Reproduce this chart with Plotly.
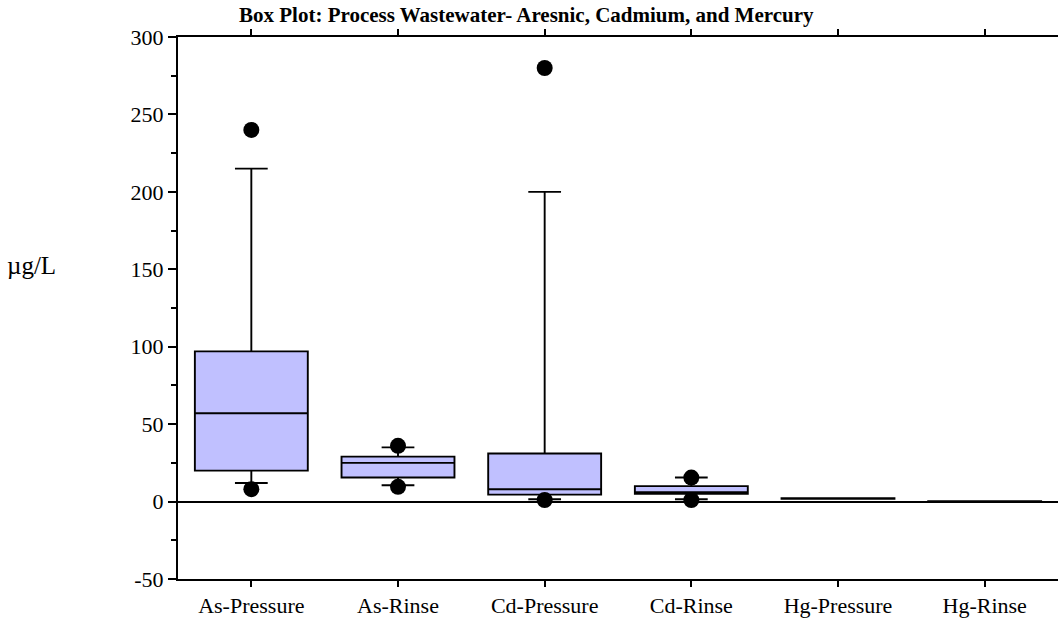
import plotly.graph_objects as go

# Sample groups (µg/L)
categories = ["As-Pressure", "As-Rinse", "Cd-Pressure", "Cd-Rinse", "Hg-Pressure", "Hg-Rinse"]
lower_whisker = [12, 10.5, 1.5, 1.5, 1.8, -0.3]
q1_values = [20, 15.5, 4.5, 5, 1.8, -0.3]
medians = [57, 25, 8, 6, 2, 0]
q3_values = [97, 29, 31, 10, 2.2, 0.2]
upper_whisker = [215, 35, 200, 15.5, 2.2, 0.2]

# Outlying observations: (group index, value)
outlier_group = [0, 0, 1, 1, 2, 2, 3, 3]
outlier_value = [8, 240, 9.5, 36, 1, 280, 1, 15.5]

# Value axis ticks
y_tickvals = [-50, 0, 50, 100, 150, 200, 250, 300]
y_ticktext = ["-50", "0", "50", "100", "150", "200", "250", "300"]
y_minor = [-25, 25, 75, 125, 175, 225, 275]

positions = list(range(len(categories)))
serif = "Liberation Serif, Times New Roman, serif"

fig = go.Figure()

fig.add_trace(go.Box(
    x=positions,
    q1=q1_values,
    median=medians,
    q3=q3_values,
    lowerfence=lower_whisker,
    upperfence=upper_whisker,
    width=0.77,
    whiskerwidth=0.29,
    boxpoints=False,
    fillcolor="#C0C0FF",
    line=dict(color="black", width=1.9),
    showlegend=False,
    hoverinfo="skip",
))

fig.add_trace(go.Scatter(
    x=outlier_group,
    y=outlier_value,
    mode="markers",
    marker=dict(symbol="circle", size=16, color="black"),
    showlegend=False,
    hoverinfo="skip",
))

fig.update_layout(
    width=1058,
    height=622,
    margin=dict(l=178, r=0, t=37, b=43),
    paper_bgcolor="white",
    plot_bgcolor="white",
    font=dict(family=serif, size=22, color="black"),
    annotations=[
        dict(
            text="<b>Box Plot: Process Wastewater- Aresnic, Cadmium, and Mercury</b>",
            x=(526 - 178) / 880, y=1, xref="paper", yref="paper",
            xanchor="center", yanchor="bottom", yshift=8,
            showarrow=False, font=dict(family=serif, size=21, color="black"),
        ),
        dict(
            text="µg/L",
            x=-0.197, y=0.579, xref="paper", yref="paper",
            xanchor="left", yanchor="middle",
            showarrow=False, font=dict(family=serif, size=25, color="black"),
        ),
    ],
)

fig.update_xaxes(
    range=[-0.5, 5.5],
    tickmode="array",
    tickvals=positions,
    ticktext=categories,
    ticks="outside",
    ticklen=6,
    tickwidth=1.5,
    tickcolor="black",
    showline=True,
    linecolor="black",
    linewidth=2,
    mirror="ticks",
    showgrid=False,
    zeroline=False,
    fixedrange=True,
)

fig.update_yaxes(
    range=[-50, 300],
    tickmode="array",
    tickvals=y_tickvals,
    ticktext=y_ticktext,
    ticks="outside",
    ticklen=8,
    tickwidth=1.5,
    tickcolor="black",
    minor=dict(tickmode="array", tickvals=y_minor,
               ticks="outside", ticklen=5, tickwidth=1.5, tickcolor="black", showgrid=False),
    showline=True,
    linecolor="black",
    linewidth=2,
    mirror=False,
    showgrid=False,
    zeroline=True,
    zerolinecolor="black",
    zerolinewidth=1.5,
    fixedrange=True,
)

fig.write_html("out.html")
